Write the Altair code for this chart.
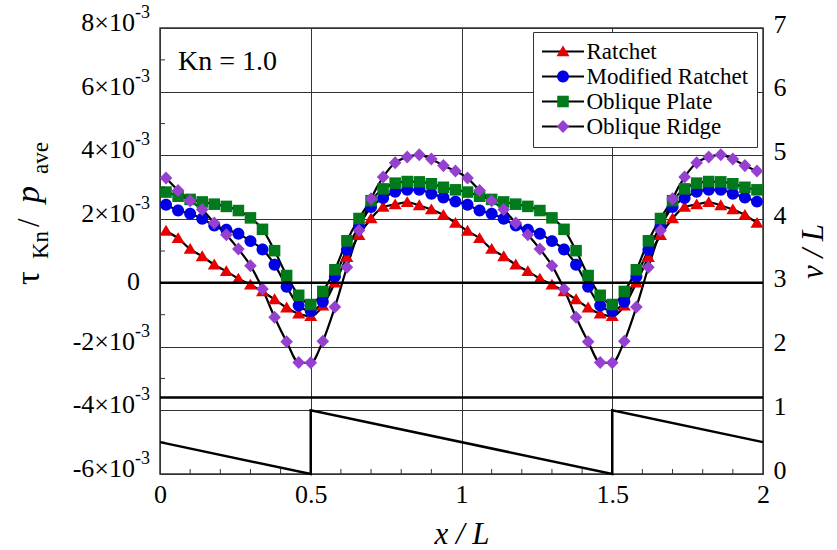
import altair as alt
import pandas as pd

FONT = "Liberation Serif, Times New Roman, DejaVu Serif, serif"

# ---------------- data (values in units of 1e-3) ----------------
series = ["Ratchet", "Modified Ratchet", "Oblique Plate", "Oblique Ridge"]
colors = ["#e60000", "#0000e6", "#007a1a", "#9640d0"]
# custom marker paths (triangle, circle, square, diamond)
shapes = [
    "M0,-0.58L0.62,0.45L-0.62,0.45Z",
    "M-0.57,0A0.57,0.57 0 1,0 0.57,0A0.57,0.57 0 1,0 -0.57,0Z",
    "M-0.55,-0.55L0.55,-0.55L0.55,0.55L-0.55,0.55Z",
    "M0,-0.62L0.6,0L0,0.62L-0.6,0Z",
]

x_pos = [0.02, 0.06, 0.10, 0.14, 0.18, 0.22, 0.26, 0.30, 0.34, 0.38,
         0.42, 0.46, 0.50, 0.54, 0.58, 0.62, 0.66, 0.70, 0.74, 0.78,
         0.82, 0.86, 0.90, 0.94, 0.98,
         1.02, 1.06, 1.10, 1.14, 1.18, 1.22, 1.26, 1.30, 1.34, 1.38,
         1.42, 1.46, 1.50, 1.54, 1.58, 1.62, 1.66, 1.70, 1.74, 1.78,
         1.82, 1.86, 1.90, 1.94, 1.98]

ratchet = [1.63, 1.40, 1.06, 0.83, 0.57, 0.36, 0.13, -0.06, -0.27, -0.52,
           -0.78, -0.97, -1.05, -0.72, 0.00, 0.80, 1.49, 2.02, 2.38, 2.46,
           2.53, 2.43, 2.30, 2.13, 1.88,
           1.63, 1.40, 1.06, 0.83, 0.57, 0.36, 0.13, -0.06, -0.27, -0.52,
           -0.78, -0.97, -1.05, -0.72, 0.00, 0.80, 1.49, 2.02, 2.38, 2.46,
           2.53, 2.43, 2.30, 2.13, 1.88]

modified = [2.45, 2.27, 2.17, 2.01, 1.80, 1.67, 1.54, 1.31, 1.05, 0.57,
            -0.12, -0.71, -0.88, -0.59, 0.20, 1.04, 1.78, 2.38, 2.66, 2.86,
            2.92, 2.92, 2.80, 2.68, 2.55,
            2.45, 2.27, 2.17, 2.01, 1.80, 1.67, 1.54, 1.31, 1.05, 0.57,
            -0.12, -0.71, -0.88, -0.59, 0.20, 1.04, 1.78, 2.38, 2.66, 2.86,
            2.92, 2.92, 2.80, 2.68, 2.55]

plate = [2.85, 2.72, 2.62, 2.54, 2.47, 2.40, 2.27, 2.04, 1.68, 1.01,
         0.23, -0.39, -0.68, -0.27, 0.41, 1.32, 2.02, 2.58, 2.95, 3.13,
         3.18, 3.17, 3.11, 3.00, 2.92,
         2.85, 2.72, 2.62, 2.54, 2.47, 2.40, 2.27, 2.04, 1.68, 1.01,
         0.23, -0.39, -0.68, -0.27, 0.41, 1.32, 2.02, 2.58, 2.95, 3.13,
         3.18, 3.17, 3.11, 3.00, 2.92]

ridge = [3.29, 2.90, 2.58, 2.30, 1.88, 1.51, 1.06, 0.54, -0.19, -1.08,
         -1.85, -2.50, -2.51, -1.83, -0.76, 0.49, 1.64, 2.64, 3.32, 3.77,
         3.95, 4.02, 3.89, 3.68, 3.51,
         3.29, 2.90, 2.58, 2.30, 1.88, 1.51, 1.06, 0.54, -0.19, -1.08,
         -1.85, -2.50, -2.51, -1.83, -0.76, 0.49, 1.64, 2.64, 3.32, 3.77,
         3.95, 4.02, 3.89, 3.68, 3.51]

# wall profile v/L (right axis)
saw_x = [0.0, 0.5, 0.5, 1.5, 1.5, 2.0]
saw_v = [0.5, 0.0, 1.0, 0.0, 1.0, 0.5]
wall_v = [1.2]

x_ticks = [0, 0.5, 1, 1.5, 2]
x_minor = [0.1, 0.2, 0.3, 0.4, 0.6, 0.7, 0.8, 0.9, 1.1, 1.2, 1.3, 1.4,
           1.6, 1.7, 1.8, 1.9]
y_ticks = [-6, -4, -2, 0, 2, 4, 6, 8]
y_minor = [-5, -3, -1, 1, 3, 5, 7]
y_main = ["-6×10", "-4×10", "-2×10", "0", "2×10", "4×10", "6×10", "8×10"]
y_sup = ["-3", "-3", "-3", "", "-3", "-3", "-3", "-3"]
v_ticks = [0, 1, 2, 3, 4, 5, 6, 7]

# ---------------- tables ----------------
n = len(x_pos)
df = pd.DataFrame({
    "x": x_pos * 4,
    "value": ratchet + modified + plate + ridge,
    "series": [s for s in series for _ in range(n)],
})
# keys of the (hidden-label) line legend: same names, a small trailing space
line_keys = [s + "\u2005" for s in series]
df["series_line"] = df["series"] + "\u2005"

saw_df = pd.DataFrame({"x": saw_x, "v": saw_v, "i": list(range(len(saw_x)))})
wall_df = pd.DataFrame({"v": wall_v})
lab_df = pd.DataFrame({"value": y_ticks, "main": y_main, "sup": y_sup})
xminor_df = pd.DataFrame({"x": x_minor})
yminor_df = pd.DataFrame({"value": y_minor})
zero_df = pd.DataFrame({"value": [0]})

xscale = alt.Scale(domain=[0, 2], nice=False, zero=False)
yscale = alt.Scale(domain=[-6, 8], nice=False, zero=False)
vscale = alt.Scale(domain=[0, 7], nice=False, zero=False)

GRID = "#333333"

x_axis = alt.Axis(values=x_ticks, format="~g", grid=True, gridColor=GRID,
                  gridWidth=1, gridOpacity=1, ticks=False, domain=False,
                  labelFont=FONT, labelFontSize=26, labelColor="black",
                  labelPadding=7, labelFlush=False, title="x / L",
                  titleFont=FONT, titleFontSize=31, titleFontStyle="italic",
                  titleFontWeight="normal", titleColor="black", titlePadding=12)
y_axis = alt.Axis(orient="left", values=y_ticks, grid=True, gridColor=GRID,
                  gridWidth=1, gridOpacity=1, labels=False, ticks=False,
                  domain=False, title=None)
v_axis = alt.Axis(orient="right", values=v_ticks, grid=False, ticks=False,
                  domain=False, labelFont=FONT, labelFontSize=26,
                  labelColor="black", labelPadding=10, labelOffset=-4,
                  title="v / L", titleFont=FONT, titleFontSize=31,
                  titleFontStyle="italic", titleFontWeight="normal",
                  titleColor="black", titleAngle=270, titleBaseline="top",
                  titlePadding=12)

common_leg = dict(orient="none", legendX=373, legendY=4, padding=8, title=None,
                  symbolSize=441, symbolOffset=10.5, labelOffset=12,
                  labelFont=FONT, labelFontSize=23, labelColor="black",
                  labelLimit=400, rowPadding=1, direction="vertical",
                  columns=1)
line_leg = alt.Legend(symbolType="M-2,0L2,0", symbolStrokeWidth=2,
                      labelOpacity=0, fillColor="white", strokeColor=GRID,
                      **common_leg)
mark_leg = alt.Legend(symbolStrokeWidth=0, symbolOpacity=1, **common_leg)

X = alt.X("x:Q", scale=xscale, axis=x_axis)
Y = alt.Y("value:Q", scale=yscale, axis=y_axis)

# ---------------- right (v/L) layers ----------------
saw = alt.Chart(saw_df).mark_line(color="black", strokeWidth=2.5).encode(
    x=X, y=alt.Y("v:Q", scale=vscale, axis=v_axis), order="i:Q",
)
wall = alt.Chart(wall_df).mark_rule(color="black", strokeWidth=2.5).encode(
    y=alt.Y("v:Q", scale=vscale, axis=v_axis)
)
right = alt.layer(saw, wall)

# ---------------- left (tau) layers ----------------
lines = alt.Chart(df).mark_line(strokeWidth=2.2, interpolate="monotone").encode(
    x=X, y=Y,
    color=alt.Color("series_line:N",
                    scale=alt.Scale(domain=line_keys, range=["black"] * 4),
                    legend=line_leg),
)
points = alt.Chart(df).mark_point(filled=True, size=441, opacity=1,
                                  strokeWidth=0).encode(
    x=X, y=Y,
    fill=alt.Fill("series:N", scale=alt.Scale(domain=series, range=colors),
                  legend=mark_leg),
    shape=alt.Shape("series:N", scale=alt.Scale(domain=series, range=shapes),
                    legend=mark_leg),
)
zero = alt.Chart(zero_df).mark_rule(color="black", strokeWidth=2.5).encode(y=Y)
xminor = alt.Chart(xminor_df).mark_rule(color=GRID, strokeWidth=1).encode(
    x=X, y=alt.value(446), y2=alt.value(441),
)
yminor = alt.Chart(yminor_df).mark_rule(color=GRID, strokeWidth=1).encode(
    y=Y, x=alt.value(0), x2=alt.value(5),
)
lab_main = alt.Chart(lab_df).transform_filter("datum.value != 0").mark_text(
    align="right", baseline="middle", font=FONT, fontSize=26, color="black",
    dy=-5).encode(x=alt.value(-25), y=Y, text="main:N")
lab_zero = alt.Chart(lab_df).transform_filter("datum.value == 0").mark_text(
    align="right", baseline="middle", font=FONT, fontSize=26, color="black",
    dy=-1).encode(x=alt.value(-20), y=Y, text="main:N")
lab_sup = alt.Chart(lab_df).transform_filter("datum.value != 0").mark_text(
    align="left", baseline="middle", font=FONT, fontSize=18, color="black",
    dy=-15).encode(x=alt.value(-25), y=Y, text="sup:N")


def title_piece(txt, x, y, size, style="normal"):
    return alt.Chart(pd.DataFrame({"t": [txt]})).mark_text(
        angle=270, align="left", baseline="alphabetic", font=FONT,
        fontSize=size, fontStyle=style, color="black").encode(
        x=alt.value(x), y=alt.value(y), text="t:N")


ytitle = alt.layer(
    title_piece("τ", -121, 257, 34),
    title_piece("Kn", -112, 231, 23),
    title_piece("/", -121, 199, 31),
    title_piece("p", -121, 175, 34, "italic"),
    title_piece("ave", -112, 146, 23),
)

kn = alt.Chart(pd.DataFrame({"t": ["Kn = 1.0"]})).mark_text(
    align="left", baseline="middle", font=FONT, fontSize=28, color="black"
).encode(x=alt.value(18), y=alt.value(34), text="t:N")

left = alt.layer(lines, points, zero, xminor, yminor, lab_main, lab_zero,
                 lab_sup, ytitle, kn)

chart = alt.layer(left, right).resolve_scale(y="independent").properties(
    width=603, height=446,
    autosize=alt.AutoSizeParams(type="none"),
    padding={"left": 160, "top": 28, "right": 74, "bottom": 76},
    background="white",
).configure_view(stroke=GRID, strokeWidth=1.5)

chart.save("out.html", embed_options={"renderer": "svg", "actions": False})
